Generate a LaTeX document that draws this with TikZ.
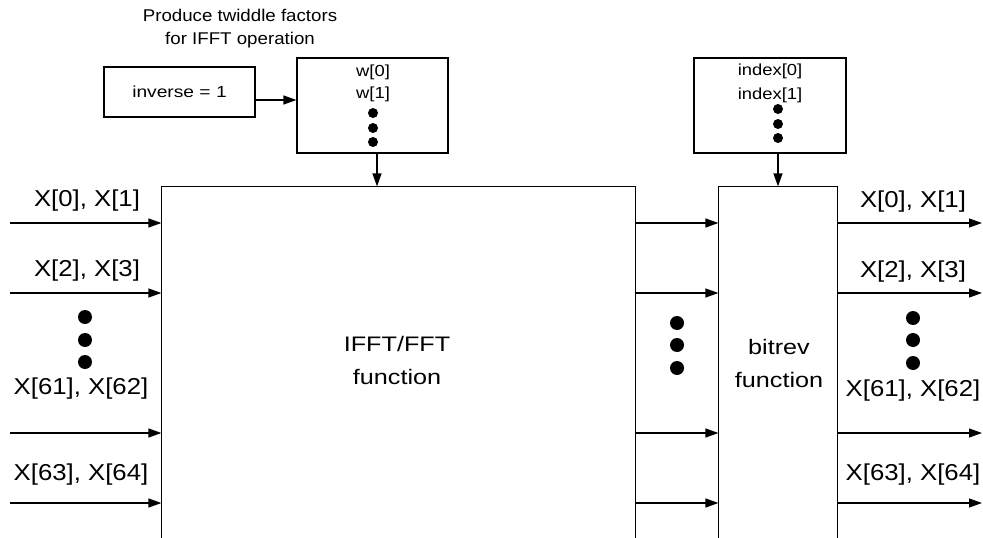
\documentclass[tikz,border=0pt]{standalone}
\usepackage{fontspec}
\setmainfont{Liberation Sans}
\newfontfamily\lblfont[FakeStretch=1.2]{Liberation Sans}
\newfontfamily\sigfont[FakeStretch=1.12]{Liberation Sans}
\newfontfamily\ttlfont[FakeStretch=1.1]{Liberation Sans}
\newfontfamily\smlfont[FakeStretch=1.15]{Liberation Sans}
\usetikzlibrary{arrows.meta}
\begin{document}
\begin{tikzpicture}[x=1pt,y=-1pt, line width=1.2pt,
  box/.style={draw, rectangle, inner sep=0pt},
  arr/.style={-{Triangle[length=13pt,width=9pt]}},
  big/.style={font=\lblfont\fontsize{21}{33}\selectfont, inner sep=0pt, align=center},
  sig/.style={font=\sigfont\fontsize{23}{28}\selectfont, inner sep=0pt},
  small/.style={font=\smlfont\fontsize{16}{19}\selectfont, inner sep=0pt},
  title/.style={font=\ttlfont\fontsize{17}{23}\selectfont, inner sep=0pt, align=center},
  dot/.style={circle, fill, inner sep=0pt, minimum size=#1},
]
\useasboundingbox (0,0) rectangle (983,538);

% title
\node[title] (ttl) at (240,29) {Produce twiddle factors\\for IFFT operation};

% inverse box
\node[box, minimum width=151pt, minimum height=50pt,
      font=\lblfont\fontsize{16}{19}\selectfont] (inv) at (179.5,92) {inverse = 1};

% twiddle box
\node[box, minimum width=151pt, minimum height=95pt] (wbox) at (372.5,105.5) {};
\node[small] (w0) at (373,72) {w[0]};
\node[small] (w1) at (373,94) {w[1]};
\node[dot=10pt] (wd1) at (373,113) {};
\node[dot=10pt] (wd2) at (373,128) {};
\node[dot=10pt] (wd3) at (373,142) {};

% index box
\node[box, minimum width=152pt, minimum height=95pt] (ibox) at (770,105.5) {};
\node[small] (i0) at (770,71) {index[0]};
\node[small] (i1) at (770,95) {index[1]};
\node[dot=10pt] (id1) at (778,109) {};
\node[dot=10pt] (id2) at (778,124) {};
\node[dot=10pt] (id3) at (778,138) {};

% IFFT/FFT function box (open at bottom)
\node[minimum width=473pt, minimum height=351pt, inner sep=0pt] (fft) at (398.5,362.5) {};
\draw (fft.south west) |- (fft.north east) -- (fft.south east);
\node[big] (fftt) at (397,360) {IFFT/FFT\\function};

% bitrev box (open at bottom)
\node[minimum width=118pt, minimum height=351pt, inner sep=0pt] (bit) at (778,362.5) {};
\draw (bit.south west) |- (bit.north east) -- (bit.south east);
\node[big] (bitt) at (779,363.5) {bitrev\\function};

% top connectors
\draw[arr] ([yshift=-8pt]inv.east) -- ([yshift=-8pt]inv.east -| wbox.west);
\draw[arr] ([xshift=4.5pt]wbox.south) -- ([xshift=4.5pt]wbox.south |- fft.north);
\draw[arr] (ibox.south -| bit.north) -- (bit.north);

% signal rows
\coordinate (l1) at (10,223);
\coordinate (l2) at (10,293);
\coordinate (l3) at (10,433);
\coordinate (l4) at (10,503);
\coordinate (rend) at (982,0);
\foreach \r in {l1,l2,l3,l4}{
  \draw[arr] (\r) -- (\r -| fft.west);
  \draw[arr] (\r -| fft.east) -- (\r -| bit.west);
  \draw[arr] (\r -| bit.east) -- (\r -| rend);
}

% left labels
\node[sig] (la) at (87,201) {X[0], X[1]};
\node[sig] (lb) at (87,271) {X[2], X[3]};
\node[sig] (lc) at (81,389) {X[61], X[62]};
\node[sig] (ld) at (81,475) {X[63], X[64]};
\node[dot=14pt] (ld1) at (85,317) {};
\node[dot=14pt] (ld2) at (85,340) {};
\node[dot=14pt] (ld3) at (85,362) {};

% middle dots
\node[dot=14pt] (md1) at (677,323) {};
\node[dot=14pt] (md2) at (677,345) {};
\node[dot=14pt] (md3) at (677,368) {};

% right labels
\node[sig] (ra) at (913,202) {X[0], X[1]};
\node[sig] (rb) at (913,272) {X[2], X[3]};
\node[sig] (rc) at (913,391) {X[61], X[62]};
\node[sig] (rd) at (913,475) {X[63], X[64]};
\node[dot=14pt] (rd1) at (913,318) {};
\node[dot=14pt] (rd2) at (913,340) {};
\node[dot=14pt] (rd3) at (913,363) {};
\end{tikzpicture}
\end{document}
